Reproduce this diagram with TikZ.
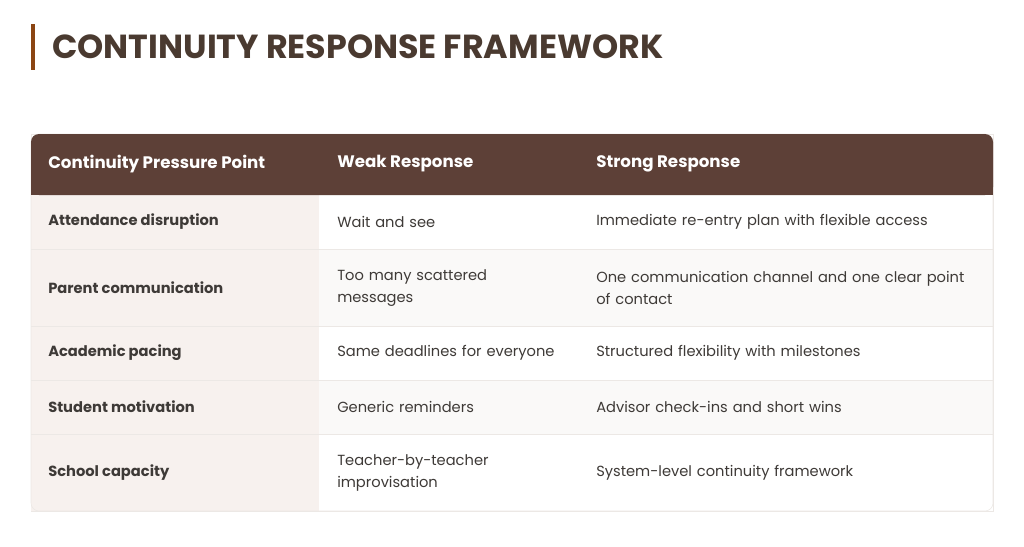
\documentclass[tikz,border=0pt]{standalone}
\usepackage{fontspec}
\setmainfont{Poppins}
\usetikzlibrary{positioning}
\definecolor{headbrown}{HTML}{5D4037}
\definecolor{titlebrown}{HTML}{4A3A30}
\definecolor{barbrown}{HTML}{8B4513}
\definecolor{firstcol}{HTML}{F7F1EE}
\definecolor{stripe}{HTML}{FAF9F8}
\definecolor{rule}{HTML}{ECE8E5}
\definecolor{bodytext}{HTML}{3E3A37}
\tikzset{
  headcell/.style = {anchor=west, text=white, font=\fontsize{12.5}{15}\selectfont\bfseries, inner sep=0pt},
  keycell/.style  = {anchor=west, text=bodytext, font=\fontsize{11}{16.5}\selectfont\bfseries, inner sep=0pt, align=left},
  bodycell/.style = {anchor=west, text=bodytext, font=\fontsize{11}{16.5}\selectfont, inner sep=0pt, align=left}
}
\begin{document}
\begin{tikzpicture}[x=0.75pt, y=-0.75pt]
  \useasboundingbox (0,0) rectangle (1024,546);
  % title
  \fill[barbrown] (31,24) rectangle (35,70);
  \node[anchor=west, text=titlebrown, font=\fontsize{25}{30}\selectfont\bfseries, inner sep=0pt] (title) at (52,47) {CONTINUITY RESPONSE FRAMEWORK};
  % table body
  \fill[white, draw=rule] (31,134) rectangle (993,511);
  \fill[stripe] (319,249) rectangle (993,326);
  \fill[stripe] (319,380) rectangle (993,434);
  \fill[firstcol] (31,195) rectangle (319,511);
  \foreach \y in {249,326,380,434}
    \draw[rule] (31,\y) -- (993,\y);
  \draw[rule, rounded corners=6pt] (31,134) rectangle (993,511);
  % header
  \fill[headbrown, rounded corners=6pt] (31,134) -- (993,134) -- (993,195) -- (31,195) -- cycle;
  \fill[headbrown] (31,170) rectangle (993,195);
  \node[headcell] (h1) at (48,164) {Continuity Pressure Point};
  \node[headcell] (h2) at (337,164) {Weak Response};
  \node[headcell] (h3) at (596,164) {Strong Response};
  % rows
  \node[keycell] (k1) at (48,222) {Attendance disruption};
  \node[bodycell, text width=230] (w1) at (337,222) {Wait and see};
  \node[bodycell, text width=385] (s1) at (596,222) {Immediate re-entry plan with flexible access};
  \node[keycell] (k2) at (48,288) {Parent communication};
  \node[bodycell, text width=230] (w2) at (337,288) {Too many scattered\\messages};
  \node[bodycell, text width=385] (s2) at (596,288) {One communication channel and one clear point\\of contact};
  \node[keycell] (k3) at (48,353) {Academic pacing};
  \node[bodycell, text width=230] (w3) at (337,353) {Same deadlines for everyone};
  \node[bodycell, text width=385] (s3) at (596,353) {Structured flexibility with milestones};
  \node[keycell] (k4) at (48,407) {Student motivation};
  \node[bodycell, text width=230] (w4) at (337,407) {Generic reminders};
  \node[bodycell, text width=385] (s4) at (596,407) {Advisor check-ins and short wins};
  \node[keycell] (k5) at (48,473) {School capacity};
  \node[bodycell, text width=230] (w5) at (337,473) {Teacher-by-teacher\\improvisation};
  \node[bodycell, text width=385] (s5) at (596,473) {System-level continuity framework};
\end{tikzpicture}
\end{document}
